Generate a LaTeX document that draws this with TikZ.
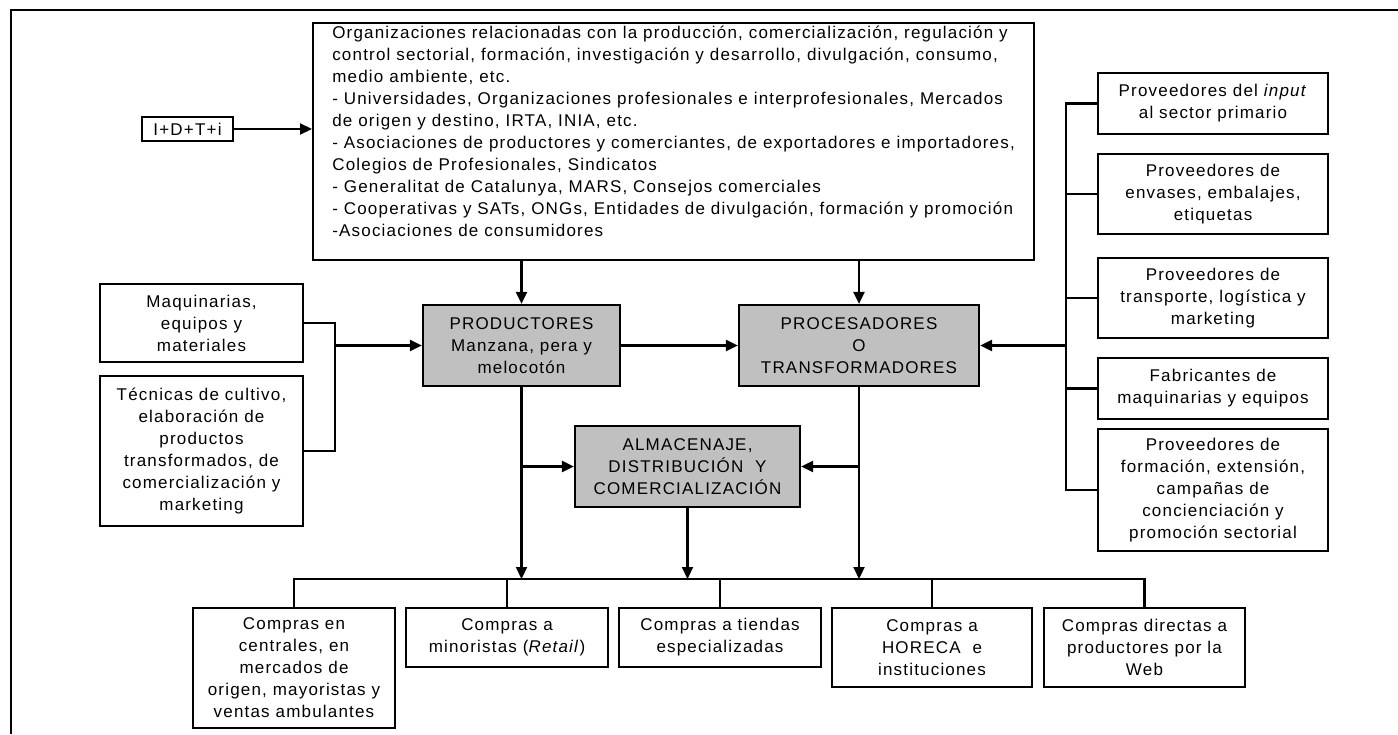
\documentclass[tikz,border=0pt]{standalone}
\usepackage{fontspec}
\setmainfont{Liberation Sans}[LetterSpace=7]
\usetikzlibrary{positioning, arrows.meta}
\definecolor{boxgray}{RGB}{192,192,192}
\tikzstyle{caja} = [rectangle, draw=black, line width=2.2pt, fill=white, align=center, inner sep=2pt]
\tikzstyle{agente} = [caja, fill=boxgray]
\tikzstyle{linea} = [line width=2.2pt]
\tikzstyle{arrow} = [line width=2.2pt, ->, >={Triangle[length=12pt,width=11pt]}]

\begin{document}
\begin{tikzpicture}[x=1pt, y=-1pt, font=\fontsize{17}{22}\selectfont]
\useasboundingbox (0,0) rectangle (1398,734);
% marco
\draw [line width=2pt] (11,734) -- (11,10) -- (1398,10);

% organizaciones
\node (orgs) [caja, anchor=north west, align=left, minimum width=721pt, minimum height=233pt, inner ysep=3pt] at (312,22) {Organizaciones relacionadas con la producción, comercialización, regulación y\\
control sectorial, formación, investigación y desarrollo, divulgación, consumo,\\
medio ambiente, etc.\\
- Universidades, Organizaciones profesionales e interprofesionales, Mercados\\
de origen y destino, IRTA, INIA, etc.\\
- Asociaciones de productores y comerciantes, de exportadores e importadores,\\
Colegios de Profesionales, Sindicatos\\
- Generalitat de Catalunya, MARS, Consejos comerciales\\
- Cooperativas y SATs, ONGs, Entidades de divulgación, formación y promoción\\
-Asociaciones de consumidores\rule[-20pt]{0pt}{0pt}};
\node (idti) [caja, minimum width=91pt, minimum height=24pt] at (187.5,129) {I+D+T+i};

% agentes
\node (prod) [agente, minimum width=197pt, minimum height=81pt] at (521.5,345.5) {PRODUCTORES\\ Manzana, pera y\\ melocotón};
\node (proc) [agente, minimum width=240pt, minimum height=81pt] at (859,345.5) {PROCESADORES\\ O\\ TRANSFORMADORES};
\node (alm) [agente, minimum width=225pt, minimum height=81pt] at (687.5,466.5) {ALMACENAJE,\\ DISTRIBUCIÓN\ \ Y\\ COMERCIALIZACIÓN};

% izquierda
\node (maq) [caja, minimum width=203pt, minimum height=78pt] at (201.5,323) {Maquinarias,\\ equipos y\\ materiales};
\node (tec) [caja, minimum width=203pt, minimum height=150pt] at (201.5,451) {Técnicas de cultivo,\\ elaboración de\\ productos\\ transformados, de\\ comercialización y\\ marketing};

% proveedores
\node (r1) [caja, minimum width=230pt, minimum height=61pt] at (1213,103.5) {Proveedores del \textit{input}\\ al sector primario};
\node (r2) [caja, minimum width=230pt, minimum height=80pt] at (1213,194) {Proveedores de\\ envases, embalajes,\\ etiquetas};
\node (r3) [caja, minimum width=230pt, minimum height=80pt] at (1213,298) {Proveedores de\\ transporte, logística y\\ marketing};
\node (r4) [caja, minimum width=230pt, minimum height=61pt] at (1213,388.5) {Fabricantes de\\ maquinarias y equipos};
\node (r5) [caja, minimum width=230pt, minimum height=122pt] at (1213,490) {Proveedores de\\ formación, extensión,\\ campañas de\\ concienciación y\\ promoción sectorial};

% compras
\node (b1) [caja, minimum width=202pt, minimum height=120pt] at (294,668) {Compras en\\ centrales, en\\ mercados de\\ origen, mayoristas y\\ ventas ambulantes};
\node (b2) [caja, minimum width=202pt, minimum height=59pt] at (507,637.5) {Compras a\\ minoristas (\textit{Retail})};
\node (b3) [caja, minimum width=202pt, minimum height=59pt] at (720,637.5) {Compras a tiendas\\ especializadas};
\node (b4) [caja, minimum width=200pt, minimum height=79pt] at (932,647.5) {Compras a\\ HORECA\ \ e\\ instituciones};
\node (b5) [caja, minimum width=201pt, minimum height=79pt] at (1144.5,647.5) {Compras directas a\\ productores por la\\ Web};

\coordinate (bl) at (335,345.5);
\coordinate (br) at (1066,345.5);
\coordinate (bus) at (0,579);

\draw [arrow] (idti) -- (idti -| orgs.west);
\draw [arrow] (orgs.south -| prod) -- (prod);
\draw [arrow] (orgs.south -| proc) -- (proc);
\draw [arrow] (prod) -- (proc);

\draw [linea] (maq.east) -| (bl) |- (tec.east);
\draw [arrow] (bl) -- (prod);

\draw [linea] (r1.west) -| (r5.west -| br) -- (r5.west);
\foreach \n in {r2,r3,r4}
  \draw [linea] (\n.west) -- (\n.west -| br);
\draw [arrow] (br) -- (proc);

\draw [arrow] (prod) -- (prod |- bus);
\draw [arrow] (proc) -- (proc |- bus);
\draw [arrow] (alm) -- (alm |- bus);
\draw [arrow] (prod |- alm) -- (alm);
\draw [arrow] (proc |- alm) -- (alm);

\draw [linea] (b1.north) |- (b5.north |- bus) -- (b5.north);
\foreach \n in {b2,b3,b4}
  \draw [linea] (\n.north) -- (\n.north |- bus);
\end{tikzpicture}
\end{document}
